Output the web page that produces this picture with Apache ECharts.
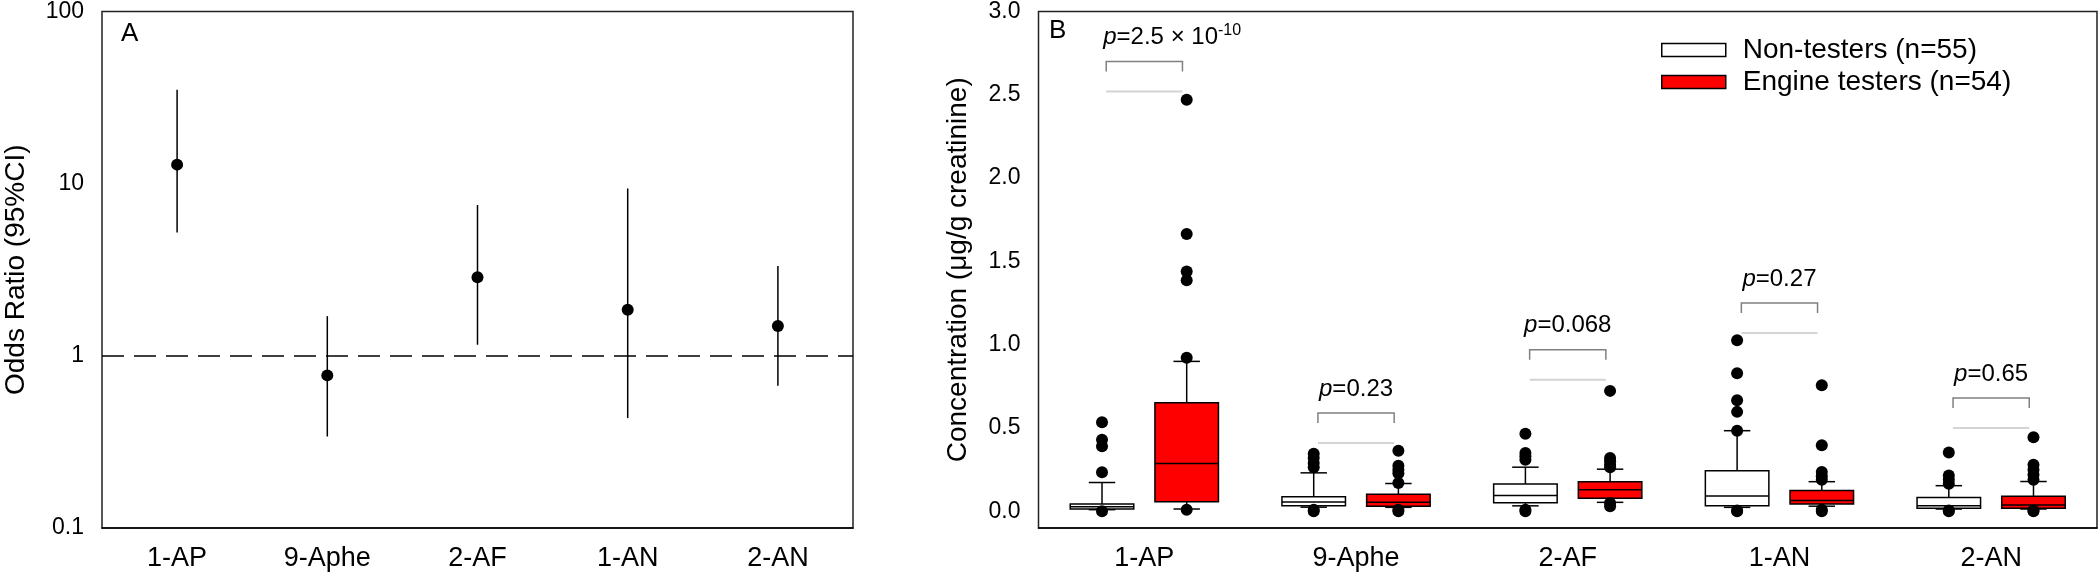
<!DOCTYPE html>
<html>
<head>
<meta charset="utf-8">
<script src="https://cdn.jsdelivr.net/npm/echarts@6/dist/echarts.min.js"></script>
<style>html,body{margin:0;padding:0;background:#fff}#c{width:2100px;height:580px}</style>
</head>
<body>
<div id="c"></div>
<script>
// ---------- data ----------
const categories = ['1-AP', '9-Aphe', '2-AF', '1-AN', '2-AN'];

// Panel A: odds ratios with 95% CI
const oddsRatio = [12.9, 0.77, 2.86, 1.85, 1.49];
const ciLow     = [5.2, 0.34, 1.16, 0.435, 0.67];
const ciHigh    = [35.1, 1.70, 7.52, 9.38, 3.33];
const refLineOR = 1;
const yTicksA = [0.1, 1, 10, 100];

// Panel B: box statistics [lowWhisker, q1, median, q3, highWhisker]
const nonTestersBox = [
  [0.010, 0.014, 0.028, 0.044, 0.173],
  [0.025, 0.034, 0.056, 0.088, 0.231],
  [0.033, 0.051, 0.095, 0.164, 0.265],
  [0.024, 0.034, 0.092, 0.243, 0.484],
  [0.014, 0.018, 0.034, 0.083, 0.154]
];
const engineTestersBox = [
  [0.014, 0.058, 0.287, 0.651, 0.900],
  [0.024, 0.030, 0.054, 0.102, 0.167],
  [0.054, 0.078, 0.130, 0.177, 0.253],
  [0.031, 0.044, 0.065, 0.125, 0.178],
  [0.014, 0.018, 0.038, 0.090, 0.179]
];
const nonTestersOutliers = [
  [0.534, 0.43, 0.39, 0.235, 0.0],
  [0.345, 0.32, 0.29, 0.265, 0.0, 0.01],
  [0.466, 0.35, 0.33, 0.31, 0.01, 0.0],
  [1.027, 0.829, 0.667, 0.597, 0.484, 0.0, 0.005],
  [0.353, 0.215, 0.19, 0.165, 0.0, 0.005]
];
const engineTestersOutliers = [
  [2.47, 1.664, 1.44, 1.387, 0.922, 0.01],
  [0.364, 0.273, 0.25, 0.229, 0.17, 0.0, 0.01],
  [0.723, 0.32, 0.30, 0.28, 0.265, 0.03, 0.05],
  [0.757, 0.397, 0.236, 0.21, 0.19, 0.0, 0.01],
  [0.444, 0.279, 0.25, 0.22, 0.19, 0.0, 0.005]
];
const pLabels = ['2.5 × 10', '0.23', '0.068', '0.27', '0.65'];
const pExponent = ['-10', '', '', '', ''];
const bracketLevel = [2.52, 0.41, 0.79, 1.07, 0.50];
const yTicksB = [0, 0.5, 1.0, 1.5, 2.0, 2.5, 3.0];
const seriesNames = ['Non-testers (n=55)', 'Engine testers (n=54)'];

// ---------- chart ----------
const FONT = "'Liberation Sans', Arial, sans-serif";
const chart = echarts.init(document.getElementById('c'), null, {renderer: 'canvas'});

function boxRender(offsetFrac, fill) {
  return function (params, api) {
    const i = api.value(0);
    const bw = api.coord([1, 0])[0] - api.coord([0, 0])[0];
    const cx = api.coord([i, 0])[0] + offsetFrac * bw;
    const half = 0.15 * bw, cap = 0.0625 * bw;
    const y = k => api.coord([i, api.value(k)])[1];
    const yl = y(1), y1 = y(2), ym = y(3), y3 = y(4), yh = y(5);
    const ls = {stroke: '#000', lineWidth: 1.5};
    return {type: 'group', children: [
      {type: 'line', shape: {x1: cx, y1: y3, x2: cx, y2: yh}, style: ls},
      {type: 'line', shape: {x1: cx, y1: y1, x2: cx, y2: yl}, style: ls},
      {type: 'line', shape: {x1: cx - cap, y1: yh, x2: cx + cap, y2: yh}, style: ls},
      {type: 'line', shape: {x1: cx - cap, y1: yl, x2: cx + cap, y2: yl}, style: ls},
      {type: 'rect', shape: {x: cx - half, y: y3, width: 2 * half, height: y1 - y3}, style: {fill: fill, stroke: '#000', lineWidth: 1.5}},
      {type: 'line', shape: {x1: cx - half, y1: ym, x2: cx + half, y2: ym}, style: ls}
    ]};
  };
}
function outlierRender(offsetFrac) {
  return function (params, api) {
    const i = api.value(0);
    const bw = api.coord([1, 0])[0] - api.coord([0, 0])[0];
    const p = api.coord([i, api.value(1)]);
    return {type: 'circle', shape: {cx: p[0] + offsetFrac * bw, cy: p[1], r: 6}, style: {fill: '#000'}};
  };
}
function bracketRender(params, api) {
  const i = api.value(0);
  const bw = api.coord([1, 0])[0] - api.coord([0, 0])[0];
  const cx = api.coord([i, 0])[0];
  const yL = api.coord([i, api.value(1)])[1];
  const x1 = cx - 0.18 * bw, x2 = cx + 0.18 * bw;
  const yT = yL - 30;
  const g = {stroke: '#808080', lineWidth: 1.5};
  const exp = pExponent[i];
  const txt = '{i|p}=' + pLabels[i] + (exp ? '{sup|' + exp + '}' : '');
  return {type: 'group', children: [
    {type: 'line', shape: {x1: x1, y1: yL, x2: x2, y2: yL}, style: {stroke: '#d4d4d4', lineWidth: 2}},
    {type: 'polyline', shape: {points: [[x1, yT + 10], [x1, yT], [x2, yT], [x2, yT + 10]]}, style: Object.assign({fill: null}, g)},
    {type: 'text', x: exp ? x1 - 3 : cx, y: yT - 24, style: {
      text: txt, fill: '#000', fontSize: 24, fontFamily: FONT,
      align: exp ? 'left' : 'center', verticalAlign: 'middle',
      rich: {
        i: {fontStyle: 'italic', fontSize: 24, fontFamily: FONT, fill: '#000'},
        sup: {fontSize: 16, fontFamily: FONT, fill: '#000', padding: [0, 0, 14, 0]}
      }
    }}
  ]};
}

const axisCommon = {
  axisLine: {onZero: false, lineStyle: {color: '#000', width: 1.5}},
  axisTick: {lineStyle: {color: '#000', width: 1.5}, length: 6},
  splitLine: {show: false}
};

const option = {
  backgroundColor: '#fff',
  animation: false,
  textStyle: {fontFamily: FONT, color: '#000'},
  title: [
    {text: 'A', left: 121, top: 21, padding: 0, textStyle: {fontSize: 26, fontWeight: 'normal', color: '#000', fontFamily: FONT}},
    {text: 'B', left: 1049, top: 18, padding: 0, textStyle: {fontSize: 26, fontWeight: 'normal', color: '#000', fontFamily: FONT}}
  ],
  legend: {
    orient: 'vertical', left: 1661, top: 36, padding: 0,
    itemWidth: 64, itemHeight: 13, itemGap: 4, icon: 'rect',
    textStyle: {fontSize: 28, fontFamily: FONT, color: '#000', lineHeight: 28, padding: [0, 0, 0, 12]},
    data: [
      {name: seriesNames[0], itemStyle: {color: '#fff', borderColor: '#000', borderWidth: 1.5}},
      {name: seriesNames[1], itemStyle: {color: '#ff0000', borderColor: '#000', borderWidth: 1.5}}
    ]
  },
  grid: [
    {left: 102, top: 9, width: 751, height: 519, show: true, borderColor: '#222', borderWidth: 1.5, backgroundColor: 'transparent'},
    {left: 1038.5, top: 9, width: 1058.5, height: 519, show: true, borderColor: '#222', borderWidth: 1.5, backgroundColor: 'transparent'}
  ],
  xAxis: [
    Object.assign({}, axisCommon, {gridIndex: 0, type: 'category', data: categories, boundaryGap: true,
      axisTick: {alignWithLabel: true, length: 6, lineStyle: {color: '#000', width: 1.5}},
      axisLabel: {fontSize: 27, color: '#000', margin: 17, fontFamily: FONT}}),
    Object.assign({}, axisCommon, {gridIndex: 1, type: 'category', data: categories, boundaryGap: true,
      axisTick: {alignWithLabel: true, length: 6, lineStyle: {color: '#000', width: 1.5}},
      axisLabel: {fontSize: 27, color: '#000', margin: 17, fontFamily: FONT}})
  ],
  yAxis: [
    Object.assign({}, axisCommon, {gridIndex: 0, type: 'log', logBase: 10, min: yTicksA[0], max: yTicksA[yTicksA.length - 1],
      name: 'Odds Ratio (95%CI)', nameLocation: 'middle', nameGap: 72,
      nameTextStyle: {fontSize: 28, color: '#000', fontFamily: FONT},
      axisLabel: {fontSize: 23, color: '#000', margin: 18, fontFamily: FONT}}),
    Object.assign({}, axisCommon, {gridIndex: 1, type: 'value', min: -0.1, max: 3.0,
      name: 'Concentration (μg/g creatinine)', nameLocation: 'middle', nameGap: 66,
      nameTextStyle: {fontSize: 28, color: '#000', fontFamily: FONT},
      axisTick: {customValues: yTicksB, length: 6, lineStyle: {color: '#000', width: 1.5}},
      axisLabel: {customValues: yTicksB, fontSize: 23, color: '#000', margin: 18, fontFamily: FONT,
        formatter: v => Number(v).toFixed(1)}})
  ],
  series: [
    {
      type: 'custom', name: 'ci', xAxisIndex: 0, yAxisIndex: 0,
      encode: {x: 0, y: [1, 2]},
      data: categories.map((c, i) => [i, ciLow[i], ciHigh[i]]),
      renderItem: function (params, api) {
        const a = api.coord([api.value(0), api.value(1)]);
        const b = api.coord([api.value(0), api.value(2)]);
        return {type: 'line', shape: {x1: a[0], y1: a[1], x2: b[0], y2: b[1]}, style: {stroke: '#000', lineWidth: 1.5}};
      },
      z: 2
    },
    {
      type: 'scatter', name: 'or', xAxisIndex: 0, yAxisIndex: 0,
      data: categories.map((c, i) => [i, oddsRatio[i]]),
      symbol: 'circle', symbolSize: 12, itemStyle: {color: '#000', opacity: 1}, z: 3,
      markLine: {silent: true, symbol: 'none', label: {show: false},
        lineStyle: {color: '#000', width: 1.5, type: [22, 10], opacity: 1},
        data: [{yAxis: refLineOR}]}
    },
    {
      type: 'custom', name: seriesNames[0], xAxisIndex: 1, yAxisIndex: 1,
      encode: {x: 0, y: [1, 2, 3, 4, 5]},
      itemStyle: {color: '#fff', borderColor: '#000'},
      data: nonTestersBox.map((b, i) => [i].concat(b)),
      renderItem: boxRender(-0.2, '#fff'), z: 2
    },
    {
      type: 'custom', name: seriesNames[1], xAxisIndex: 1, yAxisIndex: 1,
      encode: {x: 0, y: [1, 2, 3, 4, 5]},
      itemStyle: {color: '#ff0000', borderColor: '#000'},
      data: engineTestersBox.map((b, i) => [i].concat(b)),
      renderItem: boxRender(0.2, '#ff0000'), z: 2
    },
    {
      type: 'custom', name: 'outNon', xAxisIndex: 1, yAxisIndex: 1,
      encode: {x: 0, y: 1},
      data: nonTestersOutliers.flatMap((arr, i) => arr.map(v => [i, v])),
      renderItem: outlierRender(-0.2), z: 3
    },
    {
      type: 'custom', name: 'outEng', xAxisIndex: 1, yAxisIndex: 1,
      encode: {x: 0, y: 1},
      data: engineTestersOutliers.flatMap((arr, i) => arr.map(v => [i, v])),
      renderItem: outlierRender(0.2), z: 3
    },
    {
      type: 'custom', name: 'brackets', xAxisIndex: 1, yAxisIndex: 1,
      encode: {x: 0, y: 1},
      data: bracketLevel.map((v, i) => [i, v]),
      renderItem: bracketRender, z: 4
    }
  ]
};
chart.setOption(option);
</script>
</body>
</html>
